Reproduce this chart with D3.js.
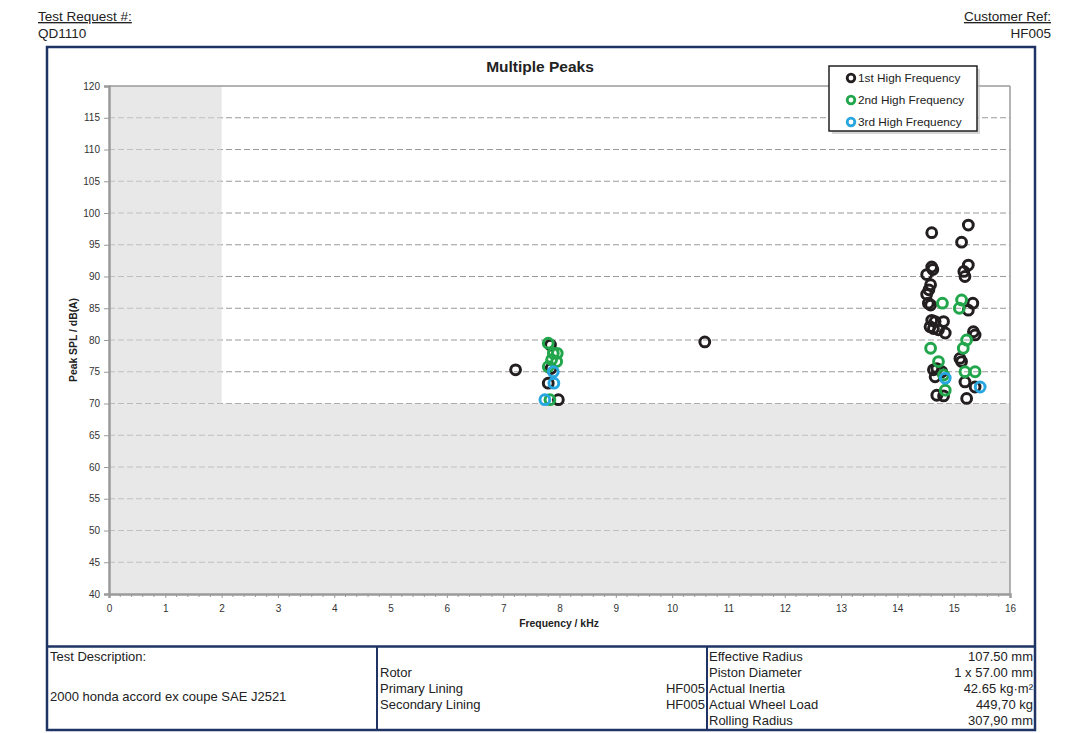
<!DOCTYPE html>
<html>
<head>
<meta charset="utf-8">
<script src="https://cdn.jsdelivr.net/npm/d3@7"></script>
<style>
  html, body { margin: 0; padding: 0; background: #fff; }
  svg { display: block; }
  text { font-family: "Liberation Sans", Arial, sans-serif; }
</style>
</head>
<body>
<svg id="chart" width="1072" height="733"></svg>
<script>
// ---------- data ----------
const seriesNames = ["1st High Frequency", "2nd High Frequency", "3rd High Frequency"];
const seriesColors = ["#231f20", "#22a64b", "#27a6df"];

const firstFreq = [7.22, 7.84, 7.85, 7.80, 7.98, 10.58,
  14.61, 15.26, 15.14, 14.61, 14.63, 14.52, 15.26, 15.18, 15.20, 14.59, 14.56, 14.52, 14.55, 14.59, 15.34, 15.26,
  14.61, 14.67, 14.82, 14.58, 14.64, 14.73, 14.85, 15.35, 15.38, 15.11, 15.14, 14.70, 14.64, 14.79, 14.67, 15.20, 15.38, 14.70, 14.82, 15.23];
const firstSpl = [75.3, 79.2, 75.5, 73.2, 70.6, 79.7,
  96.9, 98.1, 95.4, 91.5, 91.1, 90.3, 91.8, 90.8, 90.0, 88.7, 87.9, 87.2, 85.8, 85.5, 85.8, 84.7,
  83.1, 82.9, 82.9, 82.1, 81.8, 81.6, 81.1, 81.3, 80.8, 77.1, 76.6, 75.5, 75.3, 75.0, 74.2, 73.4, 72.6, 71.3, 71.2, 70.8];

const secondFreq = [7.80, 7.89, 7.96, 7.86, 7.95, 7.80, 7.83,
  14.80, 15.14, 15.10, 15.23, 15.17, 14.59, 14.73, 15.20, 15.38, 14.82, 14.85];
const secondSpl = [79.5, 77.9, 77.9, 76.9, 76.6, 75.8, 70.6,
  85.8, 86.3, 85.0, 80.0, 78.7, 78.7, 76.6, 75.0, 75.0, 74.5, 72.1];

const thirdFreq = [7.89, 7.90, 7.74, 14.85, 15.47];
const thirdSpl = [75.0, 73.2, 70.6, 74.0, 72.6];

const xTicks = d3.range(0, 17, 1);
const yTicks = d3.range(40, 121, 5);
const shadeXMax = 2;     // shaded region x 0..2
const shadeYMax = 70;    // shaded region y 40..70

const tableCol1 = ["Test Description:", "2000 honda accord ex coupe SAE J2521"];
const tableCol2Labels = ["Rotor", "Primary Lining", "Secondary Lining"];
const tableCol2Values = ["", "HF005", "HF005"];
const tableCol3Labels = ["Effective Radius", "Piston Diameter", "Actual Inertia", "Actual Wheel Load", "Rolling Radius"];
const tableCol3Values = ["107.50 mm", "1 x 57.00 mm", "42.65 kg·m²", "449,70 kg", "307,90 mm"];

// ---------- drawing ----------
const svg = d3.select("#chart");
const navy = "#1f3464";

// header
const hfs = 13.5;
svg.append("text").attr("x", 38).attr("y", 21).attr("font-size", hfs).attr("fill", "#222")
  .attr("text-decoration", "underline").text("Test Request #:");
svg.append("text").attr("x", 38).attr("y", 38).attr("font-size", hfs).attr("fill", "#222").text("QD1110");
svg.append("text").attr("x", 1051).attr("y", 21).attr("font-size", hfs).attr("fill", "#222")
  .attr("text-anchor", "end").attr("text-decoration", "underline").text("Customer Ref:");
svg.append("text").attr("x", 1051).attr("y", 38).attr("font-size", hfs).attr("fill", "#222")
  .attr("text-anchor", "end").text("HF005");

// scales
const x = d3.scaleLinear().domain([0, 16]).range([109, 1010]);
const y = d3.scaleLinear().domain([40, 120]).range([594, 86]);

// gridlines
svg.append("g").selectAll("line").data(yTicks.filter(v => v > 40 && v < 120)).join("line")
  .attr("x1", x(0)).attr("x2", x(16)).attr("y1", d => y(d)).attr("y2", d => y(d))
  .attr("stroke", "#9a9a9a").attr("stroke-width", 1).attr("stroke-dasharray", "6,3");

// shaded regions (semi-transparent so gridlines appear lighter)
svg.append("rect").attr("x", x(0)).attr("y", y(120)).attr("width", x(shadeXMax) - x(0)).attr("height", y(shadeYMax) - y(120))
  .attr("fill", "#d9d9d9").attr("opacity", 0.6);
svg.append("rect").attr("x", x(0)).attr("y", y(shadeYMax)).attr("width", x(16) - x(0)).attr("height", y(40) - y(shadeYMax))
  .attr("fill", "#d9d9d9").attr("opacity", 0.6);

// plot border: top and right thin
svg.append("line").attr("x1", x(0)).attr("x2", x(16)).attr("y1", y(120)).attr("y2", y(120)).attr("stroke", "#9a9a9a").attr("stroke-width", 1.5);
svg.append("line").attr("x1", x(16)).attr("x2", x(16)).attr("y1", y(120)).attr("y2", y(40)).attr("stroke", "#9a9a9a").attr("stroke-width", 1.5);

// y axis
const yAxis = d3.axisLeft(y).tickValues(yTicks).tickSize(5).tickPadding(4).tickFormat(d3.format("d"));
const gy = svg.append("g").attr("transform", `translate(${x(0)},0)`).call(yAxis);
gy.select(".domain").attr("stroke", "#9a9a9a").attr("stroke-width", 2.5);
gy.selectAll(".tick line").attr("stroke", "#9a9a9a");
gy.selectAll(".tick text").attr("font-size", 10).attr("fill", "#333").attr("font-family", "Liberation Sans, Arial, sans-serif");

// x axis
const xAxis = d3.axisBottom(x).tickValues(xTicks).tickSize(4).tickPadding(7).tickFormat(d3.format("d"));
const gx = svg.append("g").attr("transform", `translate(0,${y(40)})`).call(xAxis);
gx.select(".domain").attr("stroke", "#9a9a9a").attr("stroke-width", 2.5);
gx.selectAll(".tick line").attr("stroke", "#9a9a9a");
gx.selectAll(".tick text").attr("font-size", 10).attr("fill", "#333").attr("font-family", "Liberation Sans, Arial, sans-serif");
// minor ticks
svg.append("g").selectAll("line").data(d3.range(0, 16.001, 0.2).filter(v => Math.abs(v - Math.round(v)) > 0.01)).join("line")
  .attr("x1", d => x(d)).attr("x2", d => x(d)).attr("y1", y(40)).attr("y2", y(40) + 3)
  .attr("stroke", "#9a9a9a").attr("stroke-width", 1);

// axis titles
svg.append("text").attr("x", 559).attr("y", 627).attr("text-anchor", "middle").attr("font-size", 10.4)
  .attr("font-weight", "bold").attr("fill", "#222").text("Frequency / kHz");
svg.append("text").attr("transform", `translate(77,340) rotate(-90)`).attr("text-anchor", "middle").attr("font-size", 10.4)
  .attr("font-weight", "bold").attr("fill", "#222").text("Peak SPL / dB(A)");

// title
svg.append("text").attr("x", 540).attr("y", 72).attr("text-anchor", "middle").attr("font-size", 15.5)
  .attr("font-weight", "bold").attr("fill", "#222").text("Multiple Peaks");

// points
const seriesData = [
  firstFreq.map((f, i) => ({ f, v: firstSpl[i] })),
  secondFreq.map((f, i) => ({ f, v: secondSpl[i] })),
  thirdFreq.map((f, i) => ({ f, v: thirdSpl[i] }))
];
seriesData.forEach((pts, si) => {
  svg.append("g").selectAll("circle").data(pts).join("circle")
    .attr("cx", d => x(d.f)).attr("cy", d => y(d.v)).attr("r", 4.9)
    .attr("fill", "none").attr("stroke", seriesColors[si]).attr("stroke-width", 3);
});

// legend
const lg = svg.append("g");
lg.append("rect").attr("x", 832).attr("y", 69).attr("width", 148).attr("height", 65).attr("fill", "#bbb").attr("opacity", 0.6);
lg.append("rect").attr("x", 829).attr("y", 66).attr("width", 148).attr("height", 65).attr("fill", "#fff")
  .attr("stroke", "#222").attr("stroke-width", 1.5);
seriesNames.forEach((n, i) => {
  const ly = 78 + i * 22;
  lg.append("circle").attr("cx", 851).attr("cy", ly).attr("r", 3.8).attr("fill", "none")
    .attr("stroke", seriesColors[i]).attr("stroke-width", 2.8);
  lg.append("text").attr("x", 858).attr("y", ly + 4).attr("font-size", 11.8).attr("fill", "#222")
    .attr("font-family", "Lato, 'Open Sans', sans-serif").text(n);
});

// outer frame
svg.append("rect").attr("x", 47).attr("y", 47).attr("width", 988).attr("height", 683)
  .attr("fill", "none").attr("stroke", navy).attr("stroke-width", 2.5);
svg.append("line").attr("x1", 47).attr("x2", 1035).attr("y1", 646.5).attr("y2", 646.5).attr("stroke", navy).attr("stroke-width", 2.5);
svg.append("line").attr("x1", 377).attr("x2", 377).attr("y1", 646).attr("y2", 730).attr("stroke", navy).attr("stroke-width", 2);
svg.append("line").attr("x1", 707).attr("x2", 707).attr("y1", 646).attr("y2", 730).attr("stroke", navy).attr("stroke-width", 2);

// table text
const fs = 13;
svg.append("text").attr("x", 50).attr("y", 661).attr("font-size", fs).attr("fill", "#222").text(tableCol1[0]);
svg.append("text").attr("x", 50).attr("y", 701).attr("font-size", fs).attr("fill", "#222").text(tableCol1[1]);
tableCol2Labels.forEach((t, i) => {
  const ty = 677 + i * 16;
  svg.append("text").attr("x", 380).attr("y", ty).attr("font-size", fs).attr("fill", "#222").text(t);
  if (tableCol2Values[i]) svg.append("text").attr("x", 705).attr("y", ty).attr("text-anchor", "end")
    .attr("font-size", fs).attr("fill", "#222").text(tableCol2Values[i]);
});
tableCol3Labels.forEach((t, i) => {
  const ty = 661 + i * 16;
  svg.append("text").attr("x", 709).attr("y", ty).attr("font-size", fs).attr("fill", "#222").text(t);
  svg.append("text").attr("x", 1033).attr("y", ty).attr("text-anchor", "end").attr("font-size", fs).attr("fill", "#222").text(tableCol3Values[i]);
});
</script>
</body>
</html>
